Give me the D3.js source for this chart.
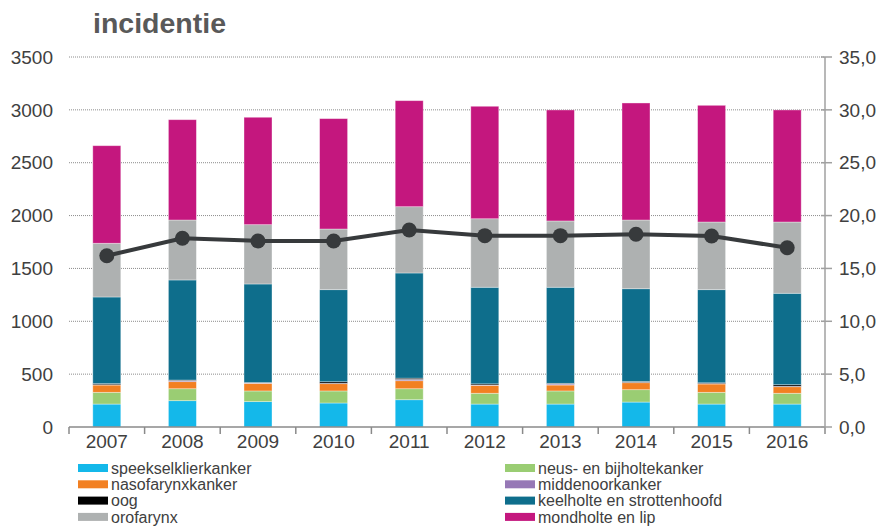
<!DOCTYPE html>
<html>
<head>
<meta charset="utf-8">
<script src="https://cdn.jsdelivr.net/npm/d3@7"></script>
<style>
  body { margin: 0; background: #fff; }
  text { font-family: "Liberation Sans", Arial, sans-serif; }
</style>
</head>
<body>
<script>
// years on the x axis
var years = ["2007", "2008", "2009", "2010", "2011", "2012", "2013", "2014", "2015", "2016"];

// series, bottom to top in the stack
var speekselklier = [217, 249, 240, 227, 258, 217, 217, 236, 217, 217];
var neusBijholte  = [111, 113, 101, 114, 104, 102, 124, 117, 111, 102];
var nasofarynx    = [69, 67, 72, 69, 76, 75, 56, 66, 79, 62];
var middenoor     = [3, 10, 4, 3, 12, 3, 10, 3, 3, 4];
var oog           = [10, 5, 3, 15, 12, 11, 6, 8, 8, 15];
var keelholte     = [820, 947, 933, 871, 995, 914, 909, 878, 881, 865];
var orofarynx     = [508, 567, 561, 574, 627, 648, 627, 650, 640, 674];
var mondholte     = [923, 949, 1016, 1044, 1003, 1064, 1050, 1107, 1104, 1060];

// line on the right axis
var rate = [16.2, 17.85, 17.6, 17.6, 18.64, 18.1, 18.1, 18.23, 18.07, 16.96];

var leftTicks = [0, 500, 1000, 1500, 2000, 2500, 3000, 3500];
var rightTicks = [0, 5, 10, 15, 20, 25, 30, 35];

var series = [
  { name: "speekselklierkanker", values: speekselklier, color: "#14b8ea" },
  { name: "neus- en bijholtekanker", values: neusBijholte, color: "#9acd73" },
  { name: "nasofarynxkanker", values: nasofarynx, color: "#f28022" },
  { name: "middenoorkanker", values: middenoor, color: "#9678b6" },
  { name: "oog", values: oog, color: "#000000" },
  { name: "keelholte en strottenhoofd", values: keelholte, color: "#0e6e8c" },
  { name: "orofarynx", values: orofarynx, color: "#aeb1b1" },
  { name: "mondholte en lip", values: mondholte, color: "#c4177e" }
];

var W = 882, H = 526;
var margin = { top: 57, right: 57, bottom: 99, left: 69 };
var width = W - margin.left - margin.right,
    height = H - margin.top - margin.bottom;

var svg = d3.select("body").append("svg")
    .attr("width", W)
    .attr("height", H);

// title
svg.append("text")
    .attr("x", 93)
    .attr("y", 33)
    .attr("font-size", 28.5)
    .attr("font-weight", "bold")
    .attr("fill", "#595959")
    .text("incidentie");

let g = svg.append("g").attr("transform", "translate(" + margin.left + "," + margin.top + ")");

const x = d3.scaleBand().domain(years).range([0, width]);
const y = d3.scaleLinear().domain([0, 3500]).range([height, 0]);
const y2 = d3.scaleLinear().domain([0, 35]).range([height, 0]);

// dotted gridlines
g.append("g").selectAll("line")
    .data(leftTicks.filter(d => d > 0))
    .enter()
    .append("line")
        .attr("x1", 0)
        .attr("x2", width)
        .attr("y1", d => y(d))
        .attr("y2", d => y(d))
        .attr("stroke", "#8c8c8c")
        .attr("stroke-width", 1)
        .attr("stroke-dasharray", "1,1");

// left axis labels (no line)
g.append("g").selectAll("text")
    .data(leftTicks)
    .enter()
    .append("text")
        .attr("x", -16)
        .attr("y", d => y(d))
        .attr("dy", "0.35em")
        .attr("text-anchor", "end")
        .attr("font-size", 19)
        .attr("fill", "#404040")
        .text(d => d);

// stacked bars
const rows = years.map((yr, i) => {
    let r = { year: yr };
    series.forEach(s => { r[s.name] = s.values[i]; });
    return r;
});
const stack = d3.stack().keys(series.map(s => s.name))(rows);
const bw = 28;

g.append("g").selectAll("g")
    .data(stack)
    .enter()
    .append("g")
        .attr("fill", (d, i) => series[i].color)
    .selectAll("rect")
    .data(d => d)
    .enter()
    .append("rect")
        .attr("x", d => x(d.data.year) + x.bandwidth() / 2 - bw / 2)
        .attr("y", d => y(d[1]))
        .attr("width", bw)
        .attr("height", d => y(d[0]) - y(d[1]))
        .attr("stroke", "#ffffff")
        .attr("stroke-opacity", 0.45)
        .attr("stroke-width", 0.8);

// x axis
const xAxis = g.append("g")
    .attr("transform", "translate(0," + height + ")");
xAxis.append("line")
    .attr("x1", 0).attr("x2", width)
    .attr("stroke", "#8a8a8a").attr("stroke-width", 1.5);
xAxis.selectAll(".tk")
    .data(d3.range(years.length + 1))
    .enter()
    .append("line")
        .attr("x1", i => i * x.step())
        .attr("x2", i => i * x.step())
        .attr("y1", 0).attr("y2", 7)
        .attr("stroke", "#8a8a8a").attr("stroke-width", 1.5);
xAxis.selectAll("text")
    .data(years)
    .enter()
    .append("text")
        .attr("x", d => x(d) + x.bandwidth() / 2)
        .attr("y", 21)
        .attr("text-anchor", "middle")
        .attr("font-size", 19)
        .attr("fill", "#404040")
        .text(d => d);

// right axis
const rAxis = g.append("g").attr("transform", "translate(" + width + ",0)");
rAxis.append("line")
    .attr("y1", 0).attr("y2", height)
    .attr("stroke", "#a0a0a0").attr("stroke-width", 1.5);
rAxis.selectAll(".tk")
    .data(rightTicks)
    .enter()
    .append("line")
        .attr("x1", -4).attr("x2", 7)
        .attr("y1", d => y2(d)).attr("y2", d => y2(d))
        .attr("stroke", "#a0a0a0").attr("stroke-width", 1.5);
rAxis.selectAll("text")
    .data(rightTicks)
    .enter()
    .append("text")
        .attr("x", 14)
        .attr("y", d => y2(d))
        .attr("dy", "0.35em")
        .attr("font-size", 19)
        .attr("fill", "#404040")
        .text(d => d3.format(".1f")(d).replace(".", ","));

// rate line
const line = d3.line()
    .x((d, i) => x(years[i]) + x.bandwidth() / 2)
    .y(d => y2(d));
g.append("path")
    .datum(rate)
    .attr("fill", "none")
    .attr("stroke", "#373a3c")
    .attr("stroke-width", 4)
    .attr("d", line);
g.append("g").selectAll("circle")
    .data(rate)
    .enter()
    .append("circle")
        .attr("cx", (d, i) => x(years[i]) + x.bandwidth() / 2)
        .attr("cy", d => y2(d))
        .attr("r", 7.5)
        .attr("fill", "#373a3c");

// legend, two columns
let legend = svg.append("g");
let item = legend.selectAll("g")
    .data(series)
    .enter()
    .append("g")
        .attr("transform", (d, i) => "translate(" + (i % 2 === 0 ? 78 : 505) + "," + (468 + Math.floor(i / 2) * 16.3) + ")");
item.append("rect")
    .attr("x", 0).attr("y", -4)
    .attr("width", 30).attr("height", 8)
    .attr("fill", d => d.color);
item.append("text")
    .attr("x", 33)
    .attr("y", 0)
    .attr("dy", "0.35em")
    .attr("font-size", 16)
    .attr("fill", "#404040")
    .text(d => d.name);
</script>
</body>
</html>
